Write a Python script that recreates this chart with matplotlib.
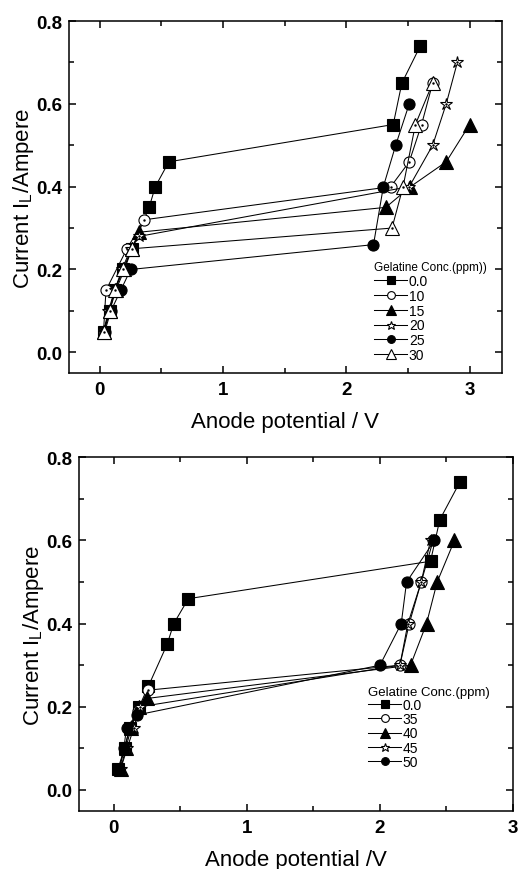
import matplotlib
matplotlib.use("Agg")
import matplotlib.pyplot as plt

plt.rcParams['font.family'] = ['Liberation Sans', 'DejaVu Sans']
plt.rcParams['mathtext.fontset'] = 'custom'
plt.rcParams['mathtext.rm'] = 'Liberation Sans'
plt.rcParams['mathtext.default'] = 'regular'

# ---- top panel data (gelatine 0-30 ppm) ----
x_00 = [0.03, 0.08, 0.12, 0.19, 0.26, 0.40, 0.45, 0.56, 2.38, 2.45, 2.60]
y_00 = [0.05, 0.10, 0.15, 0.20, 0.25, 0.35, 0.40, 0.46, 0.55, 0.65, 0.74]

x_10 = [0.03, 0.05, 0.22, 0.36, 2.36, 2.51, 2.61, 2.70]
y_10 = [0.05, 0.15, 0.25, 0.32, 0.40, 0.46, 0.55, 0.65]

x_15 = [0.03, 0.08, 0.13, 0.20, 0.26, 0.32, 2.32, 2.52, 2.81, 3.00]
y_15 = [0.05, 0.10, 0.15, 0.20, 0.25, 0.29, 0.35, 0.40, 0.46, 0.55]

x_20 = [0.03, 0.07, 0.12, 0.18, 0.25, 0.32, 2.51, 2.70, 2.81, 2.90]
y_20 = [0.05, 0.10, 0.15, 0.20, 0.25, 0.28, 0.40, 0.50, 0.60, 0.70]

x_25 = [0.04, 0.09, 0.17, 0.25, 2.22, 2.30, 2.40, 2.51]
y_25 = [0.05, 0.10, 0.15, 0.20, 0.26, 0.40, 0.50, 0.60]

x_30 = [0.035, 0.08, 0.12, 0.19, 0.26, 2.37, 2.46, 2.56, 2.70]
y_30 = [0.05, 0.10, 0.15, 0.20, 0.25, 0.30, 0.40, 0.55, 0.65]

# ---- bottom panel data (gelatine 0, 35-50 ppm) ----
x_35 = [0.04, 0.08, 0.12, 0.18, 0.26, 2.15, 2.22, 2.31, 2.40]
y_35 = [0.05, 0.10, 0.15, 0.19, 0.24, 0.30, 0.40, 0.50, 0.60]

x_40 = [0.05, 0.09, 0.13, 0.19, 0.25, 2.23, 2.35, 2.43, 2.56]
y_40 = [0.05, 0.10, 0.15, 0.20, 0.22, 0.30, 0.40, 0.50, 0.60]

x_45 = [0.05, 0.10, 0.15, 0.195, 2.15, 2.21, 2.31, 2.38]
y_45 = [0.05, 0.10, 0.15, 0.20, 0.30, 0.40, 0.50, 0.60]

x_50 = [0.04, 0.075, 0.095, 0.17, 2.00, 2.16, 2.20, 2.41]
y_50 = [0.05, 0.10, 0.15, 0.18, 0.30, 0.40, 0.50, 0.60]

top_series = [(x_00, y_00, 's', True, '0.0'), (x_10, y_10, 'o', False, '10'),
              (x_15, y_15, '^', True, '15'), (x_20, y_20, '*', False, '20'),
              (x_25, y_25, 'o', True, '25'), (x_30, y_30, '^', False, '30')]
bot_series = [(x_00, y_00, 's', True, '0.0'), (x_35, y_35, 'o', False, '35'),
              (x_40, y_40, '^', True, '40'), (x_45, y_45, '*', False, '45'),
              (x_50, y_50, 'o', True, '50')]

msize = {'s': 8, 'o': 8, '^': 10, '*': 9}


def draw(ax, series, legend_title, xlim, ylim, xlabel, leg_anchor, title_fs, lspace):
    for xs, ys, m, filled, lab in series:
        ax.plot(xs, ys, color='black', lw=0.75, marker=m, ms=msize[m],
                mfc='black' if filled else 'white', mec='black', mew=0.8,
                label=lab)
        if not filled:
            ax.plot(xs, ys, ls='none', marker='.', ms=1.5, color='black')
    ax.set_xlim(*xlim)
    ax.set_ylim(*ylim)
    ax.set_xticks([0, 1, 2, 3])
    ax.set_xticks([0.5, 1.5, 2.5], minor=True)
    ax.set_yticks([0.0, 0.2, 0.4, 0.6, 0.8])
    ax.set_yticks([0.1, 0.3, 0.5, 0.7], minor=True)
    ax.set_yticklabels(['0.0', '0.2', '0.4', '0.6', '0.8'])
    for lbl in ax.get_xticklabels() + ax.get_yticklabels():
        lbl.set_fontweight('bold')
        lbl.set_fontsize(13.5)
    ax.tick_params(which='both', direction='in', top=True, right=True, width=1.1)
    ax.tick_params(which='major', length=5)
    ax.tick_params(which='minor', length=3.5)
    ax.tick_params(axis='x', pad=6)
    ax.tick_params(axis='y', pad=5)
    for s in ax.spines.values():
        s.set_linewidth(1.1)
    ax.set_xlabel(xlabel, fontsize=16, labelpad=9)
    ax.set_ylabel('Current I$_L$/Ampere', fontsize=16, labelpad=0)
    leg = ax.legend(title=legend_title, loc='upper left', bbox_to_anchor=leg_anchor,
                    frameon=False, fontsize=10, title_fontsize=title_fs,
                    handlelength=2.4, handletextpad=0.1, labelspacing=lspace,
                    borderaxespad=0, borderpad=0, markerscale=0.7)
    leg._legend_box.align = 'left'


fig = plt.figure(figsize=(5.2, 8.7), dpi=100)
ax1 = fig.add_axes([0.1327, 0.5701, 0.8321, 0.4046])
ax2 = fig.add_axes([0.1525, 0.0670, 0.8340, 0.4062])

draw(ax1, top_series, 'Gelatine Conc.(ppm))', (-0.25, 3.26), (-0.05, 0.8),
     'Anode potential / V', (0.705, 0.318), 8.5, 0.06)
draw(ax2, bot_series, 'Gelatine Conc.(ppm)', (-0.26, 3.0), (-0.05, 0.8),
     'Anode potential /V', (0.666, 0.353), 9.5, 0.01)

fig.savefig('out.png', dpi=100)
